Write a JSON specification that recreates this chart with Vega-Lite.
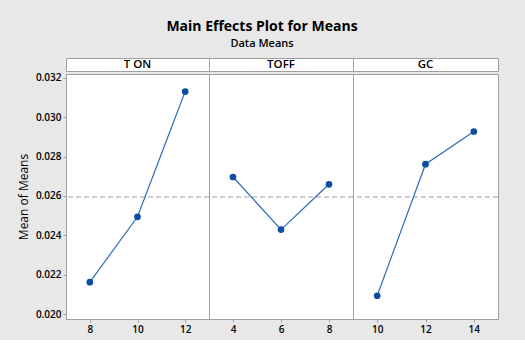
{
  "$schema": "https://vega.github.io/schema/vega-lite/v6.json",
  "background": "#e8e8e8",
  "padding": {"left": 16, "top": 19, "right": 27, "bottom": 5},
  "title": {
    "text": "Main Effects Plot for Means",
    "subtitle": "Data Means",
    "anchor": "middle",
    "font": "Open Sans",
    "fontSize": 14,
    "fontWeight": "bold",
    "color": "#000000",
    "subtitleFont": "Open Sans",
    "subtitleFontSize": 11,
    "subtitleFontWeight": 600,
    "subtitleColor": "#000000",
    "subtitlePadding": 4,
    "offset": 9,
    "dx": 4
  },
  "datasets": {
    "effects": [
      {"factor": "T ON", "level": 8, "mean": 0.02162},
      {"factor": "T ON", "level": 10, "mean": 0.02494},
      {"factor": "T ON", "level": 12, "mean": 0.0313},
      {"factor": "TOFF", "level": 4, "mean": 0.02696},
      {"factor": "TOFF", "level": 6, "mean": 0.02429},
      {"factor": "TOFF", "level": 8, "mean": 0.02659},
      {"factor": "GC", "level": 10, "mean": 0.02093},
      {"factor": "GC", "level": 12, "mean": 0.02761},
      {"factor": "GC", "level": 14, "mean": 0.02927}
    ],
    "headers": [
      {"label": "T ON"},
      {"label": "TOFF"},
      {"label": "GC"}
    ]
  },
  "config": {
    "view": {"fill": "#ffffff", "stroke": "#a0a0a0", "strokeWidth": 1},
    "font": "Open Sans",
    "axis": {
      "grid": false,
      "domainColor": "#a0a0a0",
      "tickColor": "#a0a0a0",
      "tickSize": 3,
      "labelFont": "Open Sans",
      "labelFontSize": 10,
      "labelFontWeight": 600,
      "labelColor": "#000000",
      "titleFont": "Open Sans",
      "titleColor": "#000000"
    }
  },
  "resolve": {"scale": {"x": "independent", "y": "independent"}},
  "spacing": 0,
  "vconcat": [
    {
      "spacing": 0,
      "bounds": "flush",
      "resolve": {"scale": {"x": "independent"}},
      "hconcat": [
        {
          "width": 143, "height": 13,
          "view": {"fill": "#ffffff", "stroke": "#a0a0a0"},
          "data": {"name": "headers"},
          "transform": [{"filter": "datum.label === 'T ON'"}],
          "mark": {"type": "text", "fontSize": 11.5, "fontWeight": 600, "color": "#000000", "baseline": "middle"},
          "encoding": {
            "x": {"field": "label", "type": "nominal", "axis": null},
            "text": {"field": "label"}
          }
        },
        {
          "width": 144, "height": 13,
          "view": {"fill": "#ffffff", "stroke": "#a0a0a0"},
          "data": {"name": "headers"},
          "transform": [{"filter": "datum.label === 'TOFF'"}],
          "mark": {"type": "text", "fontSize": 11.5, "fontWeight": 600, "color": "#000000", "baseline": "middle"},
          "encoding": {
            "x": {"field": "label", "type": "nominal", "axis": null},
            "text": {"field": "label"}
          }
        },
        {
          "width": 145, "height": 13,
          "view": {"fill": "#ffffff", "stroke": "#a0a0a0"},
          "data": {"name": "headers"},
          "transform": [{"filter": "datum.label === 'GC'"}],
          "mark": {"type": "text", "fontSize": 11.5, "fontWeight": 600, "color": "#000000", "baseline": "middle"},
          "encoding": {
            "x": {"field": "label", "type": "nominal", "axis": null},
            "text": {"field": "label"}
          }
        }
      ]
    },
    {
      "spacing": 0,
      "bounds": "flush",
      "resolve": {"scale": {"x": "independent", "y": "independent"}},
      "hconcat": [
        {
          "width": 143, "height": 245,
          "layer": [
            {
              "data": {"name": "effects"},
              "mark": {"type": "rule", "color": "#a0a0a0", "strokeDash": [5, 3], "strokeWidth": 1.2},
              "encoding": {
                "y": {"aggregate": "mean", "field": "mean", "type": "quantitative", "scale": {"domain": [0.01975, 0.03219], "nice": false, "zero": false}}
              }
            },
            {
              "data": {"name": "effects"},
              "transform": [{"filter": "datum.factor === 'T ON'"}],
              "mark": {"type": "line", "color": "#2e6db4", "strokeWidth": 1.2},
              "encoding": {
                "x": {"field": "level", "type": "quantitative", "scale": {"domain": [7, 13], "nice": false, "zero": false}, "axis": {"values": [8, 10, 12], "format": "d", "title": null, "labelPadding": 2}},
                "y": {"field": "mean", "type": "quantitative", "scale": {"domain": [0.01975, 0.03219], "nice": false, "zero": false}, "axis": {"values": [0.02, 0.022, 0.024, 0.026, 0.028, 0.03, 0.032], "format": ".3f", "title": "Mean of Means", "titleFontSize": 12, "titleFontWeight": 500, "titlePadding": 5, "labelPadding": 2}}
              }
            },
            {
              "data": {"name": "effects"},
              "transform": [{"filter": "datum.factor === 'T ON'"}],
              "mark": {"type": "point", "filled": true, "color": "#0c4ea2", "size": 45, "opacity": 1},
              "encoding": {
                "x": {"field": "level", "type": "quantitative"},
                "y": {"field": "mean", "type": "quantitative"}
              }
            }
          ]
        },
        {
          "width": 144, "height": 245,
          "layer": [
            {
              "data": {"name": "effects"},
              "mark": {"type": "rule", "color": "#a0a0a0", "strokeDash": [5, 3], "strokeWidth": 1.2},
              "encoding": {
                "y": {"aggregate": "mean", "field": "mean", "type": "quantitative", "scale": {"domain": [0.01975, 0.03219], "nice": false, "zero": false}, "axis": null}
              }
            },
            {
              "data": {"name": "effects"},
              "transform": [{"filter": "datum.factor === 'TOFF'"}],
              "mark": {"type": "line", "color": "#2e6db4", "strokeWidth": 1.2},
              "encoding": {
                "x": {"field": "level", "type": "quantitative", "scale": {"domain": [3, 9], "nice": false, "zero": false}, "axis": {"values": [4, 6, 8], "format": "d", "title": null, "labelPadding": 2}},
                "y": {"field": "mean", "type": "quantitative", "axis": null}
              }
            },
            {
              "data": {"name": "effects"},
              "transform": [{"filter": "datum.factor === 'TOFF'"}],
              "mark": {"type": "point", "filled": true, "color": "#0c4ea2", "size": 45, "opacity": 1},
              "encoding": {
                "x": {"field": "level", "type": "quantitative"},
                "y": {"field": "mean", "type": "quantitative", "axis": null}
              }
            }
          ]
        },
        {
          "width": 145, "height": 245,
          "layer": [
            {
              "data": {"name": "effects"},
              "mark": {"type": "rule", "color": "#a0a0a0", "strokeDash": [5, 3], "strokeWidth": 1.2},
              "encoding": {
                "y": {"aggregate": "mean", "field": "mean", "type": "quantitative", "scale": {"domain": [0.01975, 0.03219], "nice": false, "zero": false}, "axis": null}
              }
            },
            {
              "data": {"name": "effects"},
              "transform": [{"filter": "datum.factor === 'GC'"}],
              "mark": {"type": "line", "color": "#2e6db4", "strokeWidth": 1.2},
              "encoding": {
                "x": {"field": "level", "type": "quantitative", "scale": {"domain": [9, 15], "nice": false, "zero": false}, "axis": {"values": [10, 12, 14], "format": "d", "title": null, "labelPadding": 2}},
                "y": {"field": "mean", "type": "quantitative", "axis": null}
              }
            },
            {
              "data": {"name": "effects"},
              "transform": [{"filter": "datum.factor === 'GC'"}],
              "mark": {"type": "point", "filled": true, "color": "#0c4ea2", "size": 45, "opacity": 1},
              "encoding": {
                "x": {"field": "level", "type": "quantitative"},
                "y": {"field": "mean", "type": "quantitative", "axis": null}
              }
            }
          ]
        }
      ]
    }
  ]
}
